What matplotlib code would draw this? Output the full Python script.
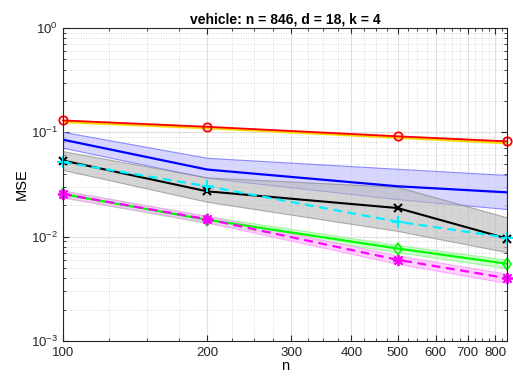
import numpy as np
import matplotlib.pyplot as plt
from matplotlib.ticker import FixedLocator, NullFormatter, LogLocator

plt.rcParams['font.family'] = ['Liberation Sans', 'DejaVu Sans']

n = [100, 200, 500, 846]

red_mean = [0.130, 0.113, 0.0916, 0.0819]
red_lo = [0.126, 0.110, 0.089, 0.0795]
red_hi = [0.134, 0.116, 0.094, 0.0843]

yel_mean = [0.126, 0.110, 0.089, 0.0790]
yel_lo = [0.123, 0.107, 0.087, 0.0770]
yel_hi = [0.129, 0.113, 0.091, 0.0810]

blue_mean = [0.085, 0.044, 0.0304, 0.0266]
blue_lo = [0.0712, 0.0366, 0.0229, 0.0184]
blue_hi = [0.101, 0.057, 0.0447, 0.039]

black_mean = [0.0537, 0.0272, 0.0188, 0.0096]
black_lo = [0.0436, 0.0216, 0.01135, 0.0071]
black_hi = [0.066, 0.037, 0.030, 0.0153]

cyan_mean = [0.0518, 0.0304, 0.0139, 0.0098]

green_mean = [0.0256, 0.0145, 0.0077, 0.0055]
green_lo = [0.0238, 0.0135, 0.0071, 0.0050]
green_hi = [0.0276, 0.0157, 0.0083, 0.0060]

mag_mean = [0.0256, 0.0147, 0.0060, 0.0040]
mag_lo = [0.0238, 0.0137, 0.0055, 0.0036]
mag_hi = [0.0276, 0.0158, 0.0066, 0.0044]

fig = plt.figure(figsize=(5.13, 3.81), dpi=100)
ax = fig.add_axes([63/513, 40/381, 444/513, 313/381])

ax.fill_between(n, red_lo, red_hi, color=(1, 0.6, 0.6), alpha=0.5, lw=0)
ax.fill_between(n, yel_lo, yel_hi, color=(1, 0.95, 0.4), alpha=0.6, lw=0)
ax.fill_between(n, blue_lo, blue_hi, facecolor=(0.8, 0.8, 1), alpha=0.8,
                edgecolor=(0.45, 0.45, 1), lw=0.8)
ax.fill_between(n, black_lo, black_hi, facecolor=(0.72, 0.72, 0.72), alpha=0.6,
                edgecolor=(0.5, 0.5, 0.5), lw=0.8)
ax.fill_between(n, green_lo, green_hi, facecolor=(0.75, 1, 0.75), alpha=0.7,
                edgecolor=(0.5, 0.95, 0.5), lw=0.8)
ax.fill_between(n, mag_lo, mag_hi, facecolor=(1, 0.75, 1), alpha=0.7,
                edgecolor=(1, 0.55, 1), lw=0.8)

ax.plot(n, yel_mean, color='#f2d600', lw=1.6)
ax.plot(n, red_mean, color='r', lw=1.3, marker='o', ms=6, mfc='none', mew=1.3, clip_on=False)
ax.plot(n, blue_mean, color='b', lw=1.6)
ax.plot(n, black_mean, color='k', lw=1.5, marker='x', ms=6, mew=1.5, clip_on=False)
ax.plot(n, cyan_mean, color='#00f0ff', lw=1.6, ls=(0, (4, 2.5)), marker='+', ms=8, mew=1.5, clip_on=False)
ax.plot(n, green_mean, color=(0, 1, 0), lw=1.6, marker='d', ms=6, mfc='none', mew=1.2, clip_on=False)
ax.plot(n, mag_mean, color='#ff00ff', lw=1.6, ls=(0, (4, 2.5)), marker=(8, 2, 0), ms=8, mew=1.3, clip_on=False)

ax.set_xscale('log')
ax.set_yscale('log')
ax.set_xlim(100, 846)
ax.set_ylim(1e-3, 1)

xmaj = [100, 200, 300, 400, 500, 600, 700, 800]
ax.xaxis.set_major_locator(FixedLocator(xmaj))
ax.set_xticklabels([str(v) for v in xmaj])
xmin = [v for v in np.arange(125, 846, 25) if v % 100 != 0]
ax.xaxis.set_minor_locator(FixedLocator(xmin))
ax.xaxis.set_minor_formatter(NullFormatter())
ax.yaxis.set_major_locator(LogLocator(base=10, numticks=10))
ax.yaxis.set_minor_locator(LogLocator(base=10, subs=np.arange(2, 10), numticks=10))
ax.yaxis.set_minor_formatter(NullFormatter())

ax.grid(True, which='major', color=(0.88, 0.88, 0.88), lw=0.8)
ax.grid(True, which='minor', color=(0.8, 0.8, 0.8), ls=(0, (1, 2)), lw=0.6)
ax.set_axisbelow(True)
ax.tick_params(which='both', direction='in', top=True, right=True, labelsize=9.5, colors='#262626')
ax.tick_params(axis='x', which='major', pad=4)
ax.tick_params(which='major', length=4)
ax.tick_params(which='minor', length=2.5)
for s in ax.spines.values():
    s.set_color('#262626')
    s.set_linewidth(0.8)

ax.set_xlabel('n', fontsize=10.5, labelpad=0)
ax.set_ylabel('MSE', fontsize=10.5, labelpad=2)
ax.set_title('vehicle: n = 846, d = 18, k = 4', fontsize=10, fontweight='bold', pad=3)

fig.savefig('out.png', dpi=100)
